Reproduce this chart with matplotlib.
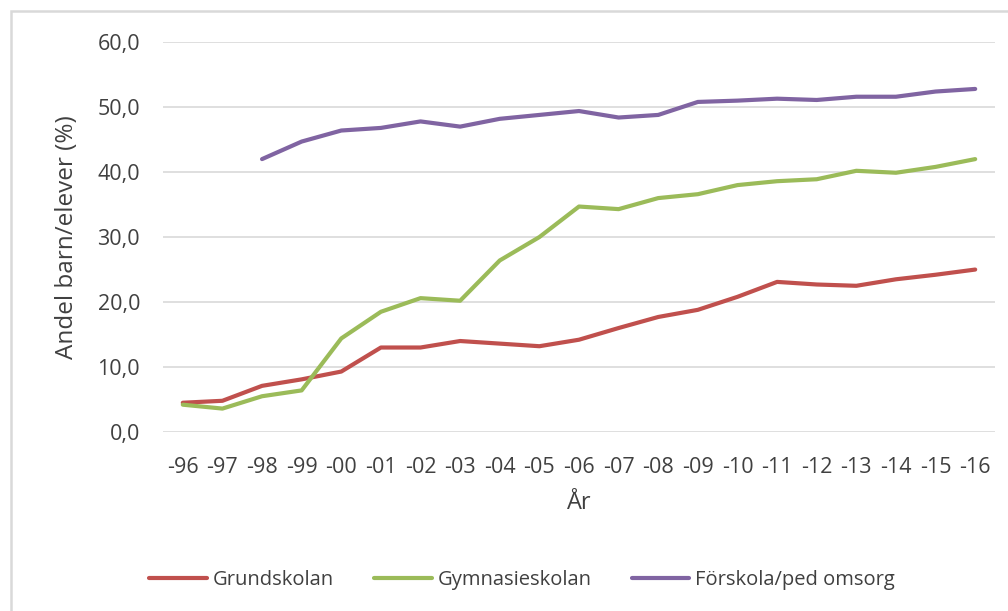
import numpy as np
import matplotlib.pyplot as plt
from matplotlib.patches import Rectangle

plt.rcParams['font.family'] = ['Open Sans', 'DejaVu Sans']

years = ['-96', '-97', '-98', '-99', '-00', '-01', '-02', '-03', '-04', '-05', '-06',
         '-07', '-08', '-09', '-10', '-11', '-12', '-13', '-14', '-15', '-16']
grundskolan = [4.5, 4.8, 7.1, 8.1, 9.3, 13.0, 13.0, 14.0, 13.6, 13.2, 14.2,
               16.0, 17.7, 18.8, 20.8, 23.1, 22.7, 22.5, 23.5, 24.2, 25.0]
gymnasieskolan = [4.2, 3.6, 5.5, 6.4, 14.4, 18.5, 20.6, 20.2, 26.4, 30.0, 34.7,
                  34.3, 36.0, 36.6, 38.0, 38.6, 38.9, 40.2, 39.9, 40.8, 42.0]
# Förskola starts in -98
forskola = [np.nan, np.nan, 42.0, 44.7, 46.4, 46.8, 47.8, 47.0, 48.2, 48.8, 49.4,
            48.4, 48.8, 50.8, 51.0, 51.3, 51.1, 51.6, 51.6, 52.4, 52.8]

series = [('Grundskolan', grundskolan, '#C0504D'),
          ('Gymnasieskolan', gymnasieskolan, '#9BBB59'),
          ('Förskola/ped omsorg', forskola, '#8064A2')]

txt = '#404040'

fig = plt.figure(figsize=(10.08, 6.11), dpi=100)
ax = fig.add_axes([0.1617, 0.293, 0.8254, 0.638])

x = np.arange(len(years))
for name, vals, col in series:
    ax.plot(x, vals, color=col, lw=3, label=name, solid_capstyle='round')

ax.set_xlim(-0.5, len(years) - 0.5)
ax.set_ylim(0, 60)
ax.set_yticks(np.arange(0, 61, 10))
ax.set_yticklabels([f'{v:.1f}'.replace('.', ',') for v in np.arange(0, 61, 10)])
ax.set_xticks(x)
ax.set_xticklabels(years)
ax.tick_params(length=0, labelsize=15.5, colors=txt)
ax.tick_params(axis='x', pad=18)
ax.tick_params(axis='y', pad=16.5)
ax.grid(axis='y', color='#D9D9D9', lw=1.2)
ax.set_axisbelow(True)
for s in ax.spines.values():
    s.set_visible(False)

ax.set_xlabel('År', fontsize=17, color=txt, va='center')
ax.xaxis.set_label_coords(0.5, -0.182)
ax.set_ylabel('Andel barn/elever (%)', fontsize=17.5, color=txt, va='center')
ax.yaxis.set_label_coords(-0.115, 0.5)

fig.legend(loc='center', bbox_to_anchor=(0.518, 0.051), ncol=3, frameon=False,
           fontsize=14.5, handlelength=2.85, columnspacing=2.0, handletextpad=0.3,
           labelcolor=txt)

# light chart border (right and bottom edges are cut off)
fig.patches.append(Rectangle((0.0114, -0.05), 1.1, 1.032, transform=fig.transFigure,
                             fill=False, edgecolor='#D9D9D9', lw=1.8))

fig.savefig('out.png', dpi=100)
